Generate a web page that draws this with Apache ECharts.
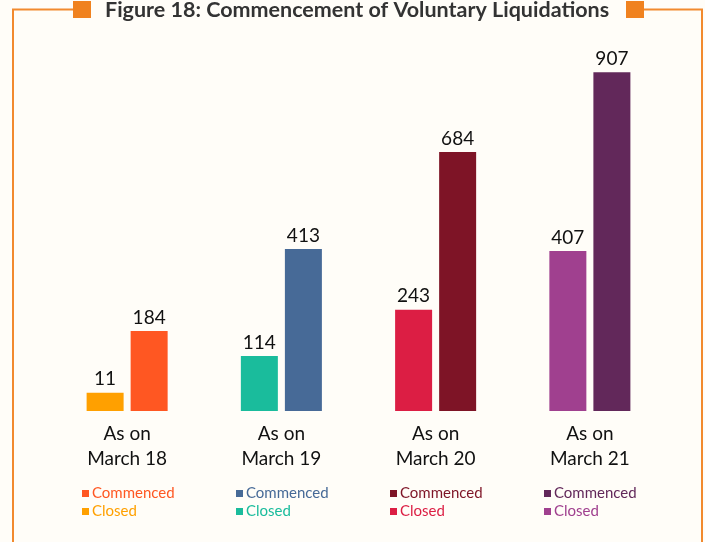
<!DOCTYPE html>
<html>
<head>
<meta charset="utf-8">
<script src="https://cdn.jsdelivr.net/npm/echarts@6/dist/echarts.min.js"></script>
<style>
	html, body { margin: 0; padding: 0; background: #fffdf8; }
	#main { width: 705px; height: 542px; }
</style>
</head>
<body>
<div id="main"></div>
<script>
	// data
	var categories = ['As on\nMarch 18', 'As on\nMarch 19', 'As on\nMarch 20', 'As on\nMarch 21'];
	var closedCount = [11, 114, 243, 407];
	var commencedCount = [184, 413, 684, 907];
	var closedColors = ['#ffa000', '#1abc9c', '#dc1e44', '#a0408f'];
	var commencedColors = ['#ff5722', '#476a97', '#7e1426', '#62285a'];

	var font = 'Lato, "Open Sans", sans-serif';
	var orange = '#f28a2e';

	function coloured(values, colors) {
		return values.map(function(v, i) {
			return { value: v, itemStyle: { color: colors[i] } };
		});
	}

	// one small legend under each group
	var legends = categories.map(function(c, i) {
		return {
			left: 82 + 154 * i,
			top: 486,
			padding: 0,
			orient: 'vertical',
			icon: 'rect',
			itemWidth: 7,
			itemHeight: 7,
			itemGap: 3,
			selectedMode: false,
			textStyle: { fontFamily: font, fontSize: 15, lineHeight: 14, padding: [0, 0, 0, -2] },
			data: [
				{ name: 'Commenced', itemStyle: { color: commencedColors[i] }, textStyle: { color: commencedColors[i] } },
				{ name: 'Closed', itemStyle: { color: closedColors[i] }, textStyle: { color: closedColors[i] } }
			]
		};
	});

	var myChart = echarts.init(document.getElementById('main'));
	var option = {
		backgroundColor: '#fffdf8',
		animation: false,
		title: {
			text: 'Figure 18: Commencement of Voluntary Liquidations',
			left: 105,
			top: 0,
			padding: 0,
			textStyle: { fontFamily: font, fontWeight: 'bold', fontSize: 21.5, lineHeight: 20, color: '#333' }
		},
		legend: legends,
		grid: { left: 50, right: 38, top: 39, bottom: 131 },
		xAxis: {
			type: 'category',
			data: categories,
			axisLine: { show: false },
			axisTick: { show: false },
			axisLabel: { fontFamily: font, fontSize: 19, lineHeight: 25, color: '#111', margin: 10 }
		},
		yAxis: {
			type: 'value',
			min: -40,
			max: 1000,
			startValue: -40,
			show: false,
			splitLine: { show: false }
		},
		series: [
			{
				name: 'Closed',
				type: 'bar',
				barWidth: 37,
				barGap: '19%',
				data: coloured(closedCount, closedColors),
				label: { show: true, position: 'top', distance: 4, fontFamily: font, fontSize: 19, color: '#111' }
			},
			{
				name: 'Commenced',
				type: 'bar',
				barWidth: 37,
				barGap: '19%',
				data: coloured(commencedCount, commencedColors),
				label: { show: true, position: 'top', distance: 4, fontFamily: font, fontSize: 19, color: '#111' }
			}
		],
		graphic: [
			{ type: 'polyline', shape: { points: [[13, 542], [13, 9.5], [74, 9.5]] }, style: { stroke: orange, lineWidth: 2, fill: null } },
			{ type: 'polyline', shape: { points: [[643, 9.5], [702, 9.5], [702, 542]] }, style: { stroke: orange, lineWidth: 2, fill: null } },
			{ type: 'rect', shape: { x: 73, y: 1, width: 18, height: 17 }, style: { fill: '#f0821f' } },
			{ type: 'rect', shape: { x: 626, y: 1, width: 18, height: 17 }, style: { fill: '#f0821f' } }
		]
	};
	myChart.setOption(option);
</script>
</body>
</html>
